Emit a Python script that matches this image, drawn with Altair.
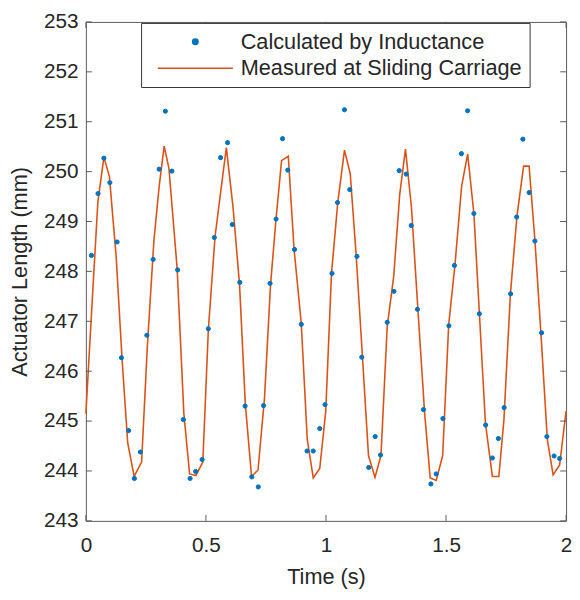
import altair as alt
import pandas as pd

SERIES = ["Calculated by Inductance", "Measured at Sliding Carriage"]
COLORS = ["#0072BD", "#D95319"]
X_TICKS = [0, 0.5, 1, 1.5, 2]
Y_TICKS = list(range(243, 254))

calc_t = [0.023, 0.0505, 0.075, 0.0998, 0.130, 0.148, 0.178, 0.202, 0.227, 0.254,
          0.280, 0.305, 0.331, 0.358, 0.382, 0.406, 0.434, 0.457, 0.484, 0.510,
          0.535, 0.561, 0.590, 0.610, 0.641, 0.663, 0.691, 0.718, 0.740, 0.767,
          0.792, 0.819, 0.841, 0.869, 0.897, 0.921, 0.947, 0.974, 0.996, 1.025,
          1.048, 1.077, 1.099, 1.129, 1.149, 1.178, 1.205, 1.227, 1.255, 1.283,
          1.305, 1.334, 1.355, 1.381, 1.406, 1.437, 1.459, 1.487, 1.512, 1.535,
          1.564, 1.590, 1.616, 1.639, 1.665, 1.693, 1.718, 1.742, 1.769, 1.794,
          1.820, 1.846, 1.870, 1.898, 1.920, 1.950, 1.973]
calc_v = [248.32, 249.56, 250.27, 249.78, 248.59, 246.27, 244.81, 243.85, 244.38, 246.72,
          248.24, 250.05, 251.21, 250.01, 248.03, 245.03, 243.85, 243.99, 244.23, 246.85,
          248.68, 250.28, 250.58, 248.94, 247.78, 245.30, 243.88, 243.68, 245.31, 247.76,
          249.05, 250.66, 250.03, 248.44, 246.94, 244.40, 244.40, 244.85, 245.33, 247.96,
          249.38, 251.24, 249.64, 248.30, 246.28, 244.07, 244.69, 244.32, 246.98, 247.60,
          250.02, 249.95, 248.92, 247.24, 245.23, 243.74, 243.94, 245.05, 246.91, 248.12,
          250.36, 251.22, 249.16, 247.15, 244.92, 244.26, 244.65, 245.27, 247.55, 249.09,
          250.65, 249.58, 248.61, 246.77, 244.69, 244.30, 244.25]

meas_t = [0.0, 0.025, 0.05, 0.075, 0.098, 0.126, 0.150, 0.174, 0.201, 0.232,
          0.256, 0.283, 0.305, 0.326, 0.346, 0.380, 0.408, 0.432, 0.458, 0.487,
          0.510, 0.538, 0.561, 0.585, 0.613, 0.640, 0.664, 0.690, 0.717, 0.744,
          0.769, 0.792, 0.815, 0.843, 0.867, 0.897, 0.922, 0.947, 0.974, 0.999,
          1.023, 1.049, 1.077, 1.101, 1.126, 1.152, 1.177, 1.204, 1.229, 1.255,
          1.282, 1.307, 1.331, 1.356, 1.383, 1.411, 1.434, 1.459, 1.486, 1.511,
          1.537, 1.565, 1.590, 1.616, 1.639, 1.664, 1.693, 1.720, 1.741, 1.768,
          1.795, 1.823, 1.846, 1.870, 1.895, 1.922, 1.946, 1.973, 2.0]
meas_v = [245.15, 247.3, 249.4, 250.29, 249.9, 248.3, 246.3, 244.57, 243.89, 244.18,
          246.5, 248.6, 249.7, 250.51, 250.06, 248.06, 245.15, 243.94, 243.91, 244.18,
          246.83, 248.70, 249.58, 250.48, 249.28, 247.73, 245.34, 243.89, 244.02, 245.47,
          247.73, 249.06, 250.22, 250.31, 248.45, 246.96, 244.63, 243.86, 244.05, 245.2,
          247.96, 249.38, 250.43, 249.96, 248.30, 246.28, 244.31, 243.87, 244.31, 246.9,
          247.9, 249.54, 250.45, 249.28, 247.22, 245.15, 243.86, 243.81, 244.31, 246.93,
          248.12, 249.71, 250.35, 249.16, 247.15, 244.96, 243.89, 243.89, 245.02, 247.54,
          249.09, 250.11, 250.11, 248.64, 246.77, 244.63, 243.92, 244.12, 245.2]

calc = pd.DataFrame({"t": calc_t, "v": calc_v, "s": SERIES[0]})
meas = pd.DataFrame({"t": meas_t, "v": meas_v, "s": SERIES[1]})
xt = pd.DataFrame({"t": X_TICKS})
yt = pd.DataFrame({"v": Y_TICKS})

W, H = 487, 506
TK = 6
FONT = "Liberation Sans"
AX = "#5a5a5a"
TXT = "#262626"

xs = alt.Scale(domain=[0, 2], nice=False, zero=False)
ys = alt.Scale(domain=[243, 253], nice=False, zero=False)

legend = alt.Legend(
    orient="none", legendX=56, legendY=1, title=None,
    fillColor="white", strokeColor="#333333", padding=8,
    labelFont=FONT, labelFontSize=22, labelColor=TXT, labelLimit=600,
    labelOffset=35, rowPadding=5, symbolSize=30, symbolStrokeWidth=1.6, symbolOffset=36,
)
fill_enc = alt.Fill("s:N", scale=alt.Scale(domain=SERIES, range=COLORS), legend=legend)
stroke_enc = alt.Stroke("s:N", scale=alt.Scale(domain=SERIES, range=COLORS), legend=legend)
shape_enc = alt.Shape("s:N", scale=alt.Scale(domain=SERIES, range=["circle", "M-13.9,0L13.9,0"]),
                      legend=legend)

ax_x = alt.Axis(values=X_TICKS, ticks=False, grid=False, domain=False, format="~g",
                labelFlush=False, title="Time (s)", labelPadding=14, titlePadding=12)
ax_y = alt.Axis(values=Y_TICKS, ticks=False, grid=False, domain=False, labelFlush=False,
                title="Actuator Length (mm)", labelPadding=8, titlePadding=12)

X = alt.X("t:Q", scale=xs, axis=ax_x)
Y = alt.Y("v:Q", scale=ys, axis=ax_y)

points = alt.Chart(calc).mark_point(filled=True, size=18, strokeWidth=1, opacity=1).encode(
    x=X, y=Y, fill=fill_enc, stroke=stroke_enc, shape=shape_enc,
)
line = alt.Chart(meas).mark_line(strokeWidth=1.6).encode(x=X, y=Y, stroke=stroke_enc)


def xticks(y0, y1):
    return alt.Chart(xt).mark_rule(color=AX, strokeWidth=1).encode(
        x=X, y=alt.value(y0), y2=alt.value(y1))


def yticks(x0, x1):
    return alt.Chart(yt).mark_rule(color=AX, strokeWidth=1).encode(
        y=Y, x=alt.value(x0), x2=alt.value(x1))


chart = alt.layer(
    line, points,
    xticks(H, H - TK), xticks(0, TK), yticks(0, TK), yticks(W, W - TK),
).properties(
    width=W, height=H,
    autosize=alt.AutoSizeParams(type="none"),
    padding={"left": 79, "top": 10, "right": 6, "bottom": 68},
).configure_view(stroke=AX, strokeWidth=1).configure_axis(
    labelFont=FONT, labelFontSize=21, labelColor=TXT,
    titleFont=FONT, titleFontSize=22, titleColor=TXT, titleFontWeight="normal",
)

chart.save("out.html", embed_options={"renderer": "svg", "actions": False})
